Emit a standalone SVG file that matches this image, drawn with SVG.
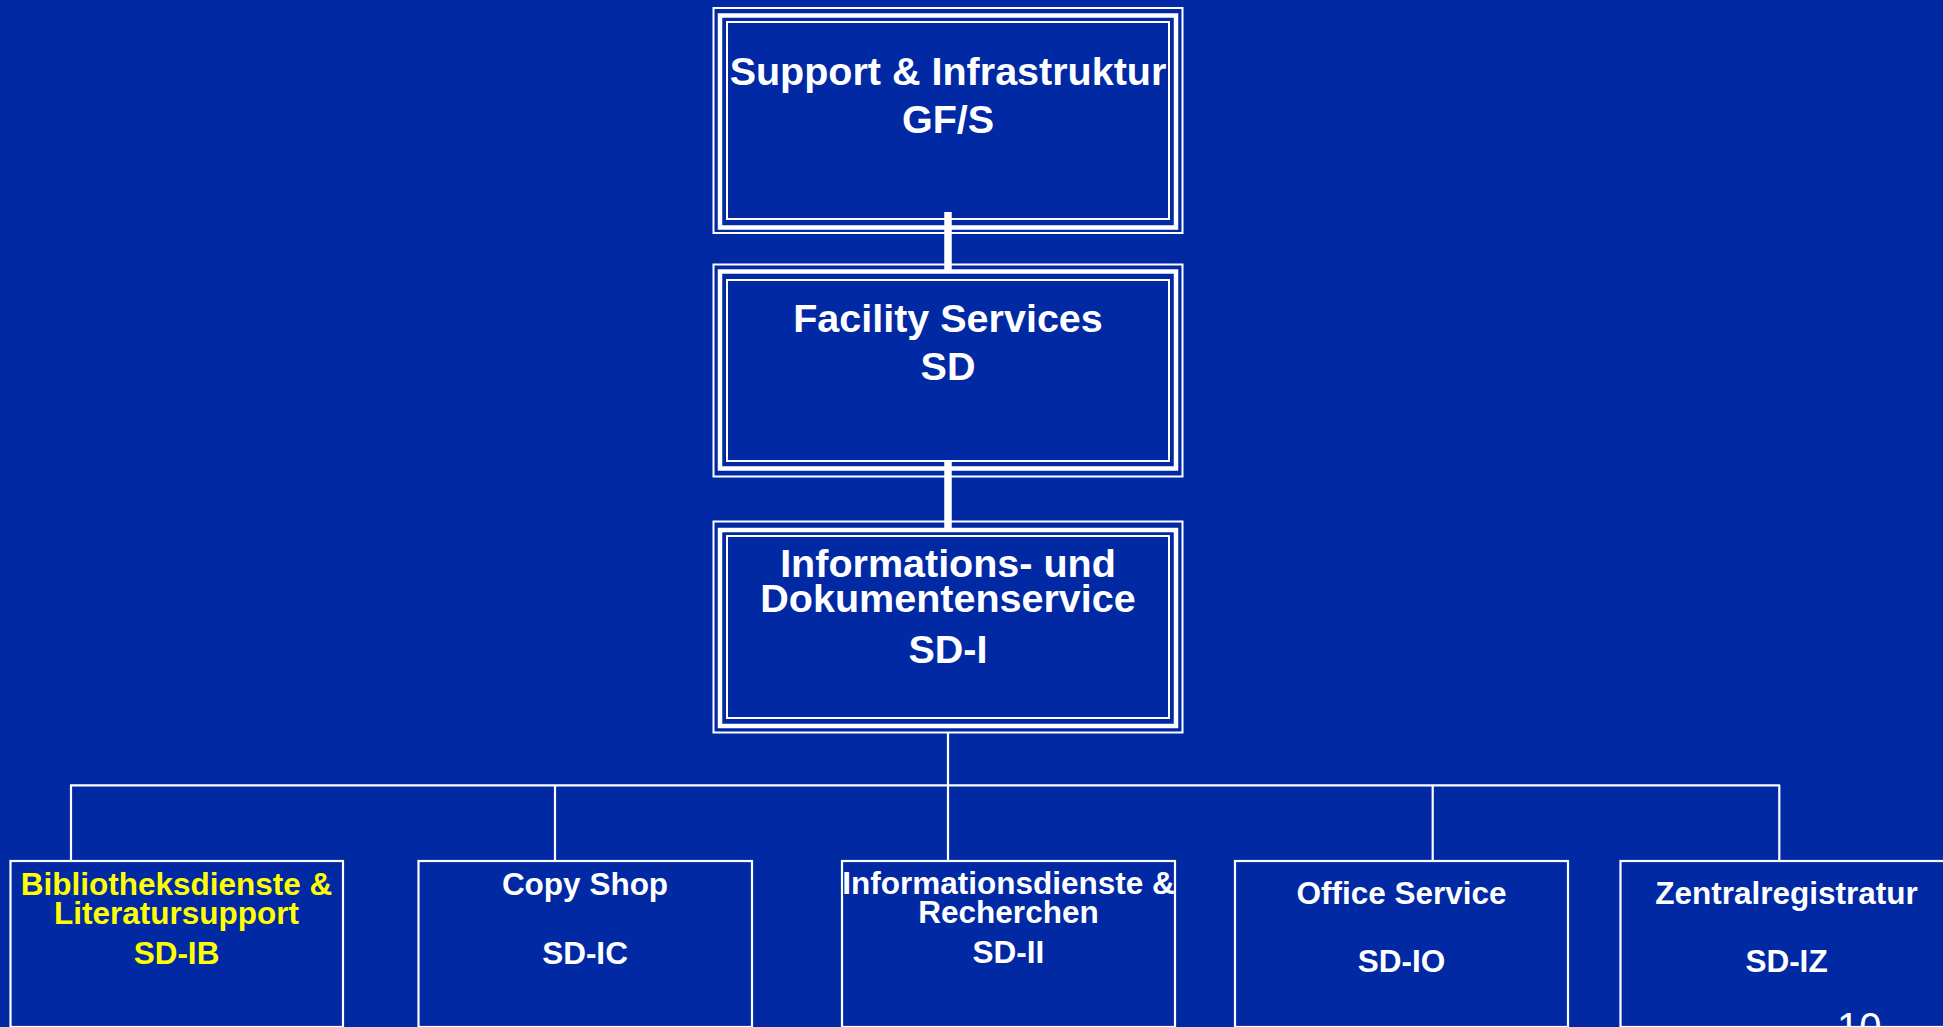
<svg xmlns="http://www.w3.org/2000/svg" width="1943" height="1027" viewBox="0 0 1943 1027">
<style>
.bg{fill:#0029A3}
.f1{fill:#0029A3;stroke:#fff;stroke-width:2}
.f2{fill:none;stroke:#fff;stroke-width:4.5}
.f3{fill:none;stroke:#fff;stroke-width:2}
.box{fill:#0029A3;stroke:#fff;stroke-width:2.2}
.t{font-family:"Liberation Sans",Arial,sans-serif;font-weight:bold;fill:#fff;text-anchor:middle}
.big{font-size:39.5px}
.sm{font-size:31.5px}
.yel{fill:#FFFF00}
.thick{stroke:#fff;stroke-width:7.5;fill:none}
.thin{stroke:#fff;stroke-width:2.2;fill:none}
</style>
<rect class="bg" x="0" y="0" width="1943" height="1027"/>
<g id="connectors">
<line class="thin" x1="948" y1="730" x2="948" y2="785"/>
<line class="thin" x1="70" y1="785.3" x2="1780" y2="785.3"/>
<line class="thin" x1="71" y1="785" x2="71" y2="861"/>
<line class="thin" x1="555" y1="785" x2="555" y2="861"/>
<line class="thin" x1="948" y1="785" x2="948" y2="861"/>
<line class="thin" x1="1432.7" y1="785" x2="1432.7" y2="861"/>
<line class="thin" x1="1779.3" y1="785" x2="1779.3" y2="861"/>
</g>
<g id="node-gfs">
<rect class="f1" x="713.5" y="8" width="469" height="225"/>
<rect class="f2" x="720" y="15.5" width="456" height="212"/>
<rect class="f3" x="727" y="22" width="442" height="197"/>
<text class="t big" x="948" y="85">Support &amp; Infrastruktur</text>
<text class="t big" x="948" y="133">GF/S</text>
</g>
<g id="node-sd">
<rect class="f1" x="713.5" y="264.5" width="469" height="212"/>
<rect class="f2" x="720" y="271.5" width="456" height="197"/>
<rect class="f3" x="727" y="280" width="442" height="181"/>
<text class="t big" x="948" y="332">Facility Services</text>
<text class="t big" x="948" y="380">SD</text>
</g>
<g id="node-sdi">
<rect class="f1" x="713.5" y="521.5" width="469" height="211"/>
<rect class="f2" x="720" y="530" width="456" height="196"/>
<rect class="f3" x="727" y="536" width="442" height="182"/>
<text class="t big" x="948" y="577">Informations- und</text>
<text class="t big" x="948" y="612">Dokumentenservice</text>
<text class="t big" x="948" y="663">SD-I</text>
</g>
<g id="connectors-thick">
<line class="thick" x1="948" y1="212" x2="948" y2="270"/>
<line class="thick" x1="948" y1="460" x2="948" y2="528"/>
</g>
<g id="node-sdib">
<rect class="box" x="10.5" y="861" width="332.5" height="166"/>
<text class="t sm yel" x="176.5" y="895">Bibliotheksdienste &amp;</text>
<text class="t sm yel" x="176.5" y="924">Literatursupport</text>
<text class="t sm yel" x="176.5" y="963.5">SD-IB</text>
</g>
<g id="node-sdic">
<rect class="box" x="418.5" y="861" width="333.5" height="166"/>
<text class="t sm" x="585" y="895">Copy Shop</text>
<text class="t sm" x="585" y="963.5">SD-IC</text>
</g>
<g id="node-sdii">
<rect class="box" x="842" y="861" width="333" height="166"/>
<text class="t sm" x="1008.5" y="894">Informationsdienste &amp;</text>
<text class="t sm" x="1008.5" y="923">Recherchen</text>
<text class="t sm" x="1008.5" y="963">SD-II</text>
</g>
<g id="node-sdio">
<rect class="box" x="1235" y="861" width="333" height="166"/>
<text class="t sm" x="1401.5" y="903.5">Office Service</text>
<text class="t sm" x="1401.5" y="972">SD-IO</text>
</g>
<g id="node-sdiz">
<rect class="box" x="1620.5" y="861" width="340" height="166"/>
<text class="t sm" x="1786.5" y="903.5">Zentralregistratur</text>
<text class="t sm" x="1786.5" y="972">SD-IZ</text>
</g>
<text x="1837" y="1041" style="font-family:'Liberation Sans',Arial,sans-serif;font-size:40px;fill:#fff">10</text>
</svg>
